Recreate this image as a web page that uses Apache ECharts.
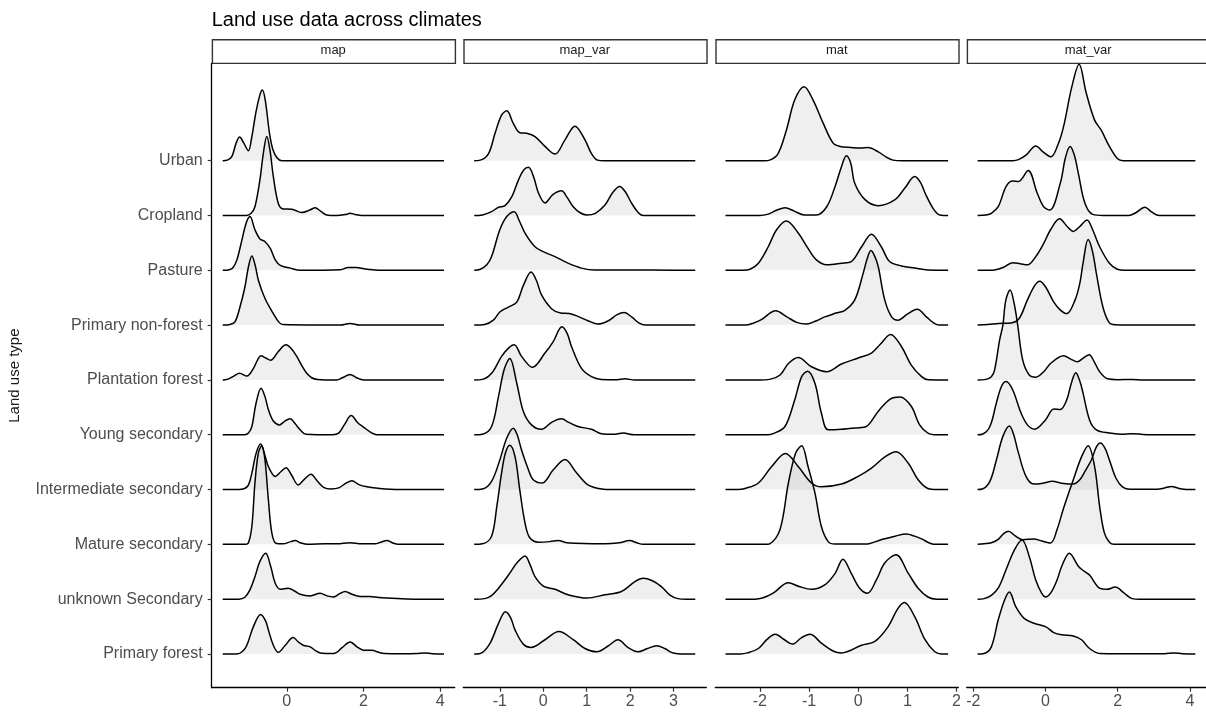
<!DOCTYPE html>
<html><head><meta charset="utf-8">
<script src="https://cdn.jsdelivr.net/npm/echarts@6/dist/echarts.min.js"></script>
<style>html,body{margin:0;padding:0;background:#fff}#c{width:1206px;height:713px}</style>
</head><body><div id="c"></div>
<script>
// ---------- DATA ----------
const title = 'Land use data across climates';
const yTitle = 'Land use type';
// top-to-bottom order (Urban at top)
const categories = ['Urban','Cropland','Pasture','Primary non-forest','Plantation forest','Young secondary','Intermediate secondary','Mature secondary','unknown Secondary','Primary forest'];
const facets = ['map','map_var','mat','mat_var'];
const xTicks_map = [0,2,4];
const xTicks_map_var = [-1,0,1,2,3];
const xTicks_mat = [-2,-1,0,1,2];
const xTicks_mat_var = [-2,0,2,4];
const xRange_map = [-1.957,4.378];
const xRange_map_var = [-1.841,3.754];
const xRange_mat = [-2.907,2.037];
const xRange_mat_var = [-2.182,4.445];

// density curves: [x, scaled density] per category, same order as categories
const map_density = [
 [[-1.67,0],[-1.55,0.01],[-1.43,0.08],[-1.32,0.32],[-1.23,0.43],[-1.12,0.32],[-1.0,0.18],[-0.92,0.4],[-0.8,0.9],[-0.7,1.2],[-0.635,1.29],[-0.56,1.1],[-0.45,0.5],[-0.36,0.2],[-0.25,0.05],[-0.13,0.0],[4.10,0]],
 [[-1.67,0],[-1.05,0],[-0.93,0.04],[-0.83,0.16],[-0.7,0.65],[-0.61,1.14],[-0.52,1.44],[-0.44,1.2],[-0.35,0.71],[-0.22,0.22],[-0.09,0.12],[0.13,0.115],[0.39,0.055],[0.6,0.1],[0.74,0.14],[0.88,0.08],[1.04,0.01],[1.3,0],[1.55,0.02],[1.65,0.04],[1.78,0.02],[1.95,0],[4.10,0]],
 [[-1.67,0],[-1.5,0.01],[-1.4,0.05],[-1.3,0.19],[-1.17,0.55],[-1.06,0.86],[-0.96,0.98],[-0.83,0.74],[-0.7,0.57],[-0.58,0.53],[-0.43,0.4],[-0.3,0.19],[-0.17,0.09],[0.09,0.04],[0.35,0],[1.4,0.01],[1.6,0.05],[1.8,0.05],[2.1,0.02],[2.4,0],[4.10,0]],
 [[-1.67,0],[-1.48,0.01],[-1.35,0.06],[-1.22,0.33],[-1.09,0.7],[-1.0,1.06],[-0.91,1.26],[-0.82,1.08],[-0.74,0.82],[-0.57,0.49],[-0.35,0.21],[-0.2,0.05],[-0.1,0.01],[1.4,0],[1.65,0.03],[1.9,0],[4.10,0]],
 [[-1.67,0],[-1.55,0.01],[-1.38,0.07],[-1.23,0.12],[-1.04,0.07],[-0.87,0.21],[-0.75,0.38],[-0.67,0.44],[-0.55,0.4],[-0.42,0.36],[-0.22,0.52],[-0.02,0.64],[0.12,0.57],[0.26,0.43],[0.4,0.25],[0.52,0.12],[0.65,0.04],[0.8,0.01],[1.3,0],[1.45,0.04],[1.65,0.1],[1.82,0.04],[2.0,0],[4.10,0]],
 [[-1.67,0],[-1.1,0],[-1.0,0.03],[-0.91,0.15],[-0.8,0.58],[-0.67,0.85],[-0.57,0.7],[-0.48,0.46],[-0.35,0.25],[-0.19,0.18],[-0.05,0.25],[0.09,0.29],[0.22,0.2],[0.35,0.09],[0.5,0.01],[1.2,0],[1.35,0.03],[1.5,0.18],[1.68,0.35],[1.85,0.22],[2.0,0.14],[2.2,0.04],[2.35,0],[4.10,0]],
 [[-1.67,0],[-1.25,0],[-1.1,0.02],[-1.0,0.08],[-0.91,0.3],[-0.8,0.66],[-0.68,0.83],[-0.58,0.65],[-0.48,0.42],[-0.3,0.24],[-0.15,0.33],[-0.02,0.4],[0.12,0.27],[0.3,0.085],[0.45,0.18],[0.63,0.28],[0.8,0.15],[0.96,0.04],[1.15,0.01],[1.35,0.03],[1.55,0.12],[1.7,0.16],[1.88,0.09],[2.09,0.05],[2.43,0.02],[2.7,0.005],[3.0,0],[4.10,0]],
 [[-1.67,0],[-1.1,0],[-1.0,0.03],[-0.91,0.33],[-0.83,1.12],[-0.74,1.67],[-0.65,1.8],[-0.57,1.55],[-0.48,0.82],[-0.39,0.21],[-0.28,0.02],[-0.1,0.01],[0.1,0.05],[0.22,0.07],[0.35,0.03],[0.55,0.0],[1.0,0.01],[1.3,0.01],[1.65,0.03],[1.95,0.01],[2.3,0.01],[2.45,0.04],[2.61,0.07],[2.75,0.03],[2.9,0],[4.10,0]],
 [[-1.67,0],[-1.25,0],[-1.1,0.03],[-0.96,0.17],[-0.83,0.41],[-0.7,0.69],[-0.55,0.84],[-0.42,0.6],[-0.3,0.29],[-0.17,0.18],[0.04,0.2],[0.2,0.15],[0.35,0.09],[0.61,0.06],[0.87,0.11],[1.05,0.06],[1.22,0.04],[1.38,0.1],[1.52,0.14],[1.7,0.09],[1.91,0.05],[2.17,0.05],[2.4,0.03],[2.61,0.02],[3.13,0.005],[3.5,0],[4.10,0]],
 [[-1.67,0],[-1.3,0],[-1.15,0.05],[-1.04,0.16],[-0.87,0.5],[-0.68,0.72],[-0.55,0.6],[-0.48,0.44],[-0.35,0.16],[-0.22,0.03],[-0.05,0.15],[0.17,0.3],[0.3,0.22],[0.43,0.16],[0.61,0.13],[0.75,0.06],[0.87,0.02],[1.22,0.01],[1.45,0.12],[1.65,0.22],[1.85,0.12],[2.0,0.07],[2.22,0.07],[2.4,0.03],[2.55,0.01],[3.0,0.005],[3.4,0.01],[3.57,0.02],[3.8,0.005],[4.10,0]]
];
const map_var_density = [
 [[-1.59,0],[-1.45,0.01],[-1.26,0.13],[-1.11,0.5],[-0.96,0.83],[-0.84,0.91],[-0.69,0.68],[-0.54,0.51],[-0.38,0.5],[-0.19,0.44],[0.04,0.26],[0.27,0.12],[0.5,0.38],[0.73,0.63],[0.96,0.38],[1.11,0.13],[1.25,0.01],[1.4,0],[3.5,0]],
 [[-1.59,0],[-1.4,0.01],[-1.19,0.07],[-1.03,0.15],[-0.88,0.18],[-0.72,0.35],[-0.57,0.65],[-0.45,0.83],[-0.34,0.88],[-0.22,0.7],[-0.11,0.41],[0.04,0.23],[0.22,0.38],[0.42,0.45],[0.55,0.33],[0.69,0.16],[0.85,0.05],[1.0,0.01],[1.2,0.04],[1.42,0.19],[1.6,0.42],[1.76,0.53],[1.9,0.42],[2.03,0.23],[2.18,0.06],[2.3,0],[3.5,0]],
 [[-1.59,0],[-1.45,0.02],[-1.3,0.1],[-1.19,0.25],[-1.0,0.74],[-0.84,0.98],[-0.67,1.07],[-0.55,0.9],[-0.42,0.68],[-0.19,0.43],[0.0,0.34],[0.27,0.25],[0.57,0.13],[0.88,0.04],[1.19,0.005],[2.0,0.005],[3.0,0.003],[3.5,0]],
 [[-1.59,0],[-1.35,0.01],[-1.15,0.09],[-1.0,0.24],[-0.8,0.33],[-0.61,0.42],[-0.46,0.72],[-0.28,0.97],[-0.15,0.8],[-0.04,0.55],[0.19,0.3],[0.4,0.22],[0.6,0.21],[0.8,0.16],[1.03,0.08],[1.26,0.02],[1.5,0.08],[1.7,0.19],[1.86,0.23],[2.05,0.14],[2.2,0.04],[2.35,0],[3.5,0]],
 [[-1.59,0],[-1.4,0.01],[-1.19,0.12],[-0.96,0.43],[-0.8,0.58],[-0.67,0.64],[-0.5,0.43],[-0.25,0.23],[0.04,0.49],[0.23,0.7],[0.43,0.97],[0.55,0.85],[0.65,0.61],[0.88,0.21],[1.11,0.06],[1.34,0.01],[1.7,0.005],[1.88,0.02],[2.1,0],[3.5,0]],
 [[-1.59,0],[-1.4,0.01],[-1.19,0.15],[-1.03,0.7],[-0.9,1.19],[-0.77,1.39],[-0.61,0.94],[-0.46,0.43],[-0.27,0.18],[-0.04,0.1],[0.2,0.23],[0.42,0.29],[0.6,0.22],[0.8,0.15],[1.11,0.1],[1.34,0.02],[1.6,0.01],[1.84,0.03],[2.1,0],[3.5,0]],
 [[-1.59,0],[-1.4,0.01],[-1.19,0.15],[-1.0,0.54],[-0.84,0.94],[-0.69,1.12],[-0.6,1.0],[-0.5,0.72],[-0.35,0.38],[-0.23,0.18],[-0.02,0.12],[0.23,0.36],[0.5,0.55],[0.77,0.3],[1.03,0.085],[1.34,0.01],[1.6,0],[3.5,0]],
 [[-1.59,0],[-1.4,0.01],[-1.19,0.15],[-1.07,0.69],[-0.96,1.3],[-0.87,1.67],[-0.77,1.81],[-0.65,1.6],[-0.54,0.99],[-0.42,0.39],[-0.31,0.12],[-0.11,0.04],[0.15,0.05],[0.34,0.07],[0.55,0.03],[0.73,0.02],[1.42,0.01],[1.75,0.03],[1.99,0.07],[2.15,0.03],[2.3,0],[3.5,0]],
 [[-1.59,0],[-1.35,0.01],[-1.2,0.06],[-1.03,0.2],[-0.8,0.44],[-0.61,0.66],[-0.42,0.79],[-0.3,0.62],[-0.19,0.41],[0.0,0.24],[0.27,0.18],[0.57,0.08],[0.8,0.04],[1.0,0.02],[1.42,0.08],[1.8,0.14],[2.11,0.32],[2.3,0.38],[2.5,0.34],[2.72,0.23],[2.91,0.08],[3.1,0.01],[3.3,0],[3.5,0]],
 [[-1.59,0],[-1.45,0.01],[-1.23,0.19],[-1.03,0.56],[-0.87,0.77],[-0.75,0.66],[-0.65,0.44],[-0.46,0.18],[-0.28,0.12],[0.04,0.26],[0.36,0.41],[0.69,0.26],[0.96,0.1],[1.23,0.04],[1.5,0.15],[1.72,0.26],[1.95,0.12],[2.18,0.04],[2.4,0.1],[2.61,0.15],[2.8,0.1],[2.95,0.03],[3.1,0.005],[3.3,0],[3.5,0]]
];
const mat_density = [
 [[-2.7,0],[-1.9,0],[-1.8,0.01],[-1.63,0.13],[-1.46,0.56],[-1.29,1.11],[-1.1,1.35],[-0.92,1.11],[-0.71,0.68],[-0.51,0.32],[-0.37,0.26],[-0.14,0.24],[0.05,0.23],[0.2,0.24],[0.41,0.16],[0.58,0.06],[0.71,0.01],[0.9,0],[1.83,0]],
 [[-2.7,0],[-2.0,0],[-1.85,0.02],[-1.65,0.1],[-1.49,0.14],[-1.3,0.08],[-1.1,0.01],[-0.85,0.01],[-0.64,0.16],[-0.47,0.53],[-0.34,0.89],[-0.24,1.09],[-0.15,0.95],[-0.07,0.59],[0.14,0.29],[0.41,0.18],[0.75,0.29],[0.95,0.5],[1.15,0.71],[1.27,0.6],[1.36,0.41],[1.53,0.12],[1.66,0.01],[1.83,0]],
 [[-2.7,0],[-2.35,0],[-2.2,0.02],[-2.03,0.13],[-1.83,0.43],[-1.66,0.74],[-1.46,0.9],[-1.22,0.68],[-1.02,0.4],[-0.85,0.19],[-0.64,0.1],[-0.34,0.13],[-0.14,0.16],[0.07,0.43],[0.27,0.66],[0.47,0.43],[0.64,0.16],[0.88,0.08],[1.15,0.04],[1.42,0.005],[1.83,0]],
 [[-2.7,0],[-2.3,0],[-2.15,0.03],[-1.97,0.1],[-1.68,0.26],[-1.45,0.15],[-1.25,0.05],[-1.05,0.02],[-0.85,0.08],[-0.68,0.15],[-0.45,0.22],[-0.27,0.27],[-0.07,0.46],[0.1,0.94],[0.18,1.2],[0.26,1.36],[0.34,1.25],[0.41,1.06],[0.54,0.46],[0.68,0.15],[0.81,0.09],[1.0,0.2],[1.2,0.29],[1.4,0.14],[1.55,0.03],[1.65,0],[1.83,0]],
 [[-2.7,0],[-2.0,0],[-1.8,0.01],[-1.59,0.09],[-1.42,0.3],[-1.22,0.41],[-0.95,0.24],[-0.64,0.15],[-0.34,0.29],[0.0,0.4],[0.27,0.49],[0.45,0.65],[0.66,0.83],[0.88,0.61],[1.08,0.27],[1.29,0.06],[1.42,0.005],[1.83,0]],
 [[-2.7,0],[-1.85,0],[-1.73,0.02],[-1.49,0.15],[-1.29,0.64],[-1.15,1.06],[-1.03,1.16],[-0.88,0.94],[-0.75,0.4],[-0.61,0.09],[-0.34,0.1],[-0.14,0.12],[0.14,0.14],[0.41,0.43],[0.65,0.65],[0.85,0.69],[1.08,0.52],[1.25,0.18],[1.42,0.03],[1.6,0],[1.83,0]],
 [[-2.7,0],[-2.45,0],[-2.3,0.02],[-2.03,0.12],[-1.76,0.42],[-1.48,0.66],[-1.22,0.42],[-0.95,0.12],[-0.75,0.05],[-0.34,0.1],[0.0,0.24],[0.27,0.39],[0.55,0.6],[0.77,0.69],[1.02,0.48],[1.22,0.18],[1.42,0.02],[1.6,0],[1.83,0]],
 [[-2.7,0],[-1.9,0],[-1.8,0.01],[-1.59,0.27],[-1.42,1.12],[-1.27,1.67],[-1.15,1.8],[-1.02,1.42],[-0.88,0.94],[-0.75,0.33],[-0.61,0.05],[-0.47,0.005],[0.15,0.005],[0.47,0.085],[0.75,0.15],[0.98,0.19],[1.15,0.15],[1.29,0.1],[1.49,0.01],[1.6,0],[1.83,0]],
 [[-2.7,0],[-2.1,0],[-1.95,0.02],[-1.73,0.11],[-1.42,0.3],[-1.2,0.23],[-0.95,0.18],[-0.68,0.26],[-0.47,0.47],[-0.31,0.73],[-0.14,0.47],[0.03,0.2],[0.19,0.11],[0.37,0.35],[0.54,0.66],[0.77,0.81],[1.02,0.47],[1.22,0.2],[1.42,0.04],[1.6,0],[1.83,0]],
 [[-2.7,0],[-2.4,0],[-2.25,0.02],[-2.03,0.1],[-1.85,0.27],[-1.69,0.36],[-1.5,0.26],[-1.34,0.18],[-1.15,0.3],[-0.98,0.36],[-0.75,0.2],[-0.5,0.05],[-0.34,0.02],[0.07,0.16],[0.34,0.23],[0.61,0.5],[0.8,0.82],[0.94,0.94],[1.15,0.68],[1.36,0.26],[1.56,0.04],[1.7,0],[1.83,0]]
];
const mat_var_density = [
 [[-1.88,0],[-0.9,0],[-0.75,0.02],[-0.54,0.1],[-0.27,0.27],[-0.05,0.15],[0.15,0.07],[0.35,0.3],[0.5,0.62],[0.73,1.35],[0.93,1.76],[1.13,1.23],[1.36,0.74],[1.54,0.56],[1.77,0.26],[1.99,0.04],[2.15,0],[4.15,0]],
 [[-1.88,0],[-1.65,0.01],[-1.5,0.04],[-1.31,0.16],[-1.09,0.53],[-0.91,0.63],[-0.75,0.62],[-0.48,0.82],[-0.23,0.41],[-0.05,0.16],[0.12,0.1],[0.41,0.59],[0.55,1.05],[0.68,1.26],[0.8,1.1],[0.91,0.77],[1.09,0.23],[1.31,0.02],[1.6,0],[2.3,0],[2.5,0.05],[2.75,0.15],[2.95,0.06],[3.15,0],[4.15,0]],
 [[-1.88,0],[-1.55,0],[-1.38,0.01],[-1.18,0.05],[-0.91,0.14],[-0.7,0.12],[-0.5,0.1],[-0.27,0.25],[-0.05,0.49],[0.14,0.74],[0.39,0.94],[0.6,0.8],[0.77,0.71],[0.95,0.8],[1.15,0.92],[1.3,0.75],[1.5,0.43],[1.77,0.13],[1.99,0.02],[2.2,0],[4.15,0]],
 [[-1.88,0],[-1.6,0.01],[-1.3,0.03],[-0.95,0.04],[-0.73,0.12],[-0.5,0.46],[-0.3,0.72],[-0.16,0.8],[0.0,0.7],[0.23,0.42],[0.42,0.27],[0.59,0.21],[0.82,0.46],[0.95,0.76],[1.04,1.13],[1.18,1.56],[1.3,1.35],[1.41,0.94],[1.59,0.33],[1.77,0.04],[1.95,0.005],[2.2,0],[4.15,0]],
 [[-1.88,0],[-1.65,0.01],[-1.5,0.06],[-1.41,0.18],[-1.27,0.73],[-1.18,1.0],[-1.1,1.45],[-0.98,1.64],[-0.87,1.4],[-0.77,1.0],[-0.63,0.36],[-0.45,0.09],[-0.27,0.05],[-0.05,0.15],[0.14,0.3],[0.5,0.44],[0.7,0.38],[0.88,0.33],[1.05,0.4],[1.21,0.46],[1.35,0.33],[1.5,0.15],[1.72,0.02],[2.0,0.005],[2.4,0.01],[2.7,0],[4.15,0]],
 [[-1.88,0],[-1.75,0.01],[-1.54,0.15],[-1.36,0.58],[-1.22,0.88],[-1.09,0.97],[-0.91,0.82],[-0.68,0.4],[-0.5,0.18],[-0.3,0.1],[0.0,0.27],[0.23,0.47],[0.41,0.46],[0.59,0.64],[0.72,0.95],[0.84,1.13],[0.95,0.98],[1.04,0.76],[1.22,0.27],[1.41,0.09],[1.77,0.03],[2.1,0.01],[2.4,0.02],[2.7,0.005],[2.95,0],[4.15,0]],
 [[-1.88,0],[-1.75,0.01],[-1.54,0.15],[-1.36,0.54],[-1.18,0.97],[-1.0,1.16],[-0.88,1.0],[-0.77,0.72],[-0.54,0.24],[-0.32,0.1],[-0.05,0.12],[0.18,0.15],[0.5,0.11],[0.77,0.1],[0.95,0.18],[1.1,0.34],[1.27,0.54],[1.41,0.78],[1.52,0.85],[1.65,0.75],[1.77,0.54],[1.95,0.21],[2.13,0.05],[2.35,0.005],[3.1,0.005],[3.3,0.03],[3.49,0.055],[3.7,0.02],[3.9,0],[4.15,0]],
 [[-1.88,0],[-1.7,0.01],[-1.5,0.03],[-1.31,0.09],[-1.15,0.2],[-1.02,0.24],[-0.85,0.16],[-0.63,0.085],[-0.32,0.1],[-0.1,0.06],[0.14,0.025],[0.32,0.27],[0.5,0.66],[0.77,1.18],[1.0,1.6],[1.18,1.8],[1.36,1.42],[1.5,0.69],[1.63,0.21],[1.77,0.04],[1.9,0],[4.15,0]],
 [[-1.88,0],[-1.7,0.01],[-1.5,0.07],[-1.31,0.2],[-1.09,0.54],[-0.86,0.9],[-0.65,1.08],[-0.45,0.78],[-0.27,0.35],[-0.1,0.1],[0.0,0.04],[0.15,0.12],[0.32,0.35],[0.45,0.6],[0.66,0.84],[0.91,0.6],[1.05,0.52],[1.22,0.44],[1.5,0.2],[1.7,0.18],[1.93,0.22],[2.18,0.11],[2.4,0.01],[2.6,0],[4.15,0]],
 [[-1.88,0],[-1.7,0.01],[-1.5,0.13],[-1.31,0.62],[-1.13,0.99],[-1.0,1.13],[-0.82,0.86],[-0.59,0.65],[-0.32,0.56],[0.0,0.5],[0.23,0.39],[0.45,0.35],[0.77,0.33],[1.0,0.26],[1.22,0.1],[1.5,0.01],[2.0,0.005],[3.3,0.005],[3.54,0.02],[3.8,0.005],[4.15,0]]
];

// ---------- LAYOUT / STYLE ----------
const densities = [map_density, map_var_density, mat_density, mat_var_density];
const xTicks = [xTicks_map, xTicks_map_var, xTicks_mat, xTicks_mat_var];
const xRanges = [xRange_map, xRange_map_var, xRange_mat, xRange_mat_var];
const panelLeft = [211.7, 463.3, 715.3, 966.7];
const panelWidth = 243;
const panelTop = 63.5, panelBottom = 687.7;
const stripTop = 39, stripH = 23.7;
const yMin = 0.385, yMax = 11.773;
const FONT = '"Liberation Sans", Arial, Helvetica, sans-serif';
const nCat = categories.length;
const baseOf = i => nCat - i; // Urban -> 10, Primary forest -> 1

const grid = [], xAxis = [], yAxis = [], series = [], graphic = [];
facets.forEach((f, p) => {
  grid.push({left: panelLeft[p], top: panelTop, width: panelWidth, height: panelBottom - panelTop, containLabel: false, show: false});
  xAxis.push({
    type: 'value', gridIndex: p, min: xRanges[p][0], max: xRanges[p][1],
    splitLine: {show: false},
    axisLine: {show: true, onZero: false, lineStyle: {color: '#000', width: 1.3}},
    axisTick: {show: true, length: 4, lineStyle: {color: '#333', width: 1.2}, customValues: xTicks[p]},
    axisLabel: {show: true, customValues: xTicks[p], margin: 6, fontSize: 16, color: '#4d4d4d', fontFamily: FONT,
      formatter: v => String(v)}
  });
  const first = p === 0;
  yAxis.push({
    type: 'value', gridIndex: p, min: yMin, max: yMax,
    splitLine: {show: false},
    axisLine: {show: first, onZero: false, lineStyle: {color: '#000', width: 1.3}},
    axisTick: {show: first, length: 4, lineStyle: {color: '#333', width: 1.2}, customValues: categories.map((c, i) => baseOf(i))},
    axisLabel: {show: first, customValues: categories.map((c, i) => baseOf(i)), margin: 9, fontSize: 16, color: '#4d4d4d', fontFamily: FONT,
      formatter: v => categories[nCat - Math.round(v)]}
  });
  densities[p].forEach((pts, i) => {
    const base = baseOf(i);
    series.push({
      type: 'line', xAxisIndex: p, yAxisIndex: p, name: f + ' ' + categories[i],
      data: pts.map(d => [d[0], base + d[1]]),
      smooth: 0.35, symbol: 'none', silent: true, animation: false,
      lineStyle: {color: '#000', width: 1.5},
      areaStyle: {color: 'rgba(179,179,179,0.3)', origin: base}
    });
  });
  graphic.push({type: 'rect', left: panelLeft[p], top: stripTop, shape: {width: panelWidth, height: stripH},
    style: {fill: '#fff', stroke: '#333', lineWidth: 1.4}, silent: true});
  graphic.push({type: 'text', x: panelLeft[p] + panelWidth / 2, y: stripTop + stripH / 2,
    style: {text: f, fontSize: 13, fill: '#1a1a1a', font: '13px ' + FONT, textAlign: 'center', textVerticalAlign: 'middle'}, silent: true});
});
graphic.push({type: 'text', x: 14.5, y: (panelTop + panelBottom) / 2, rotation: Math.PI / 2,
  style: {text: yTitle, font: '15px ' + FONT, fill: '#1a1a1a', textAlign: 'center', textVerticalAlign: 'middle'}, silent: true});

const chart = echarts.init(document.getElementById('c'), null, {renderer: 'canvas'});
chart.setOption({
  animation: false,
  backgroundColor: '#fff',
  title: {text: title, left: 211.7, top: 10, padding: 0, textStyle: {fontSize: 20, fontWeight: 'normal', color: '#000', fontFamily: FONT}},
  grid, xAxis, yAxis, series, graphic
});
</script></body></html>
